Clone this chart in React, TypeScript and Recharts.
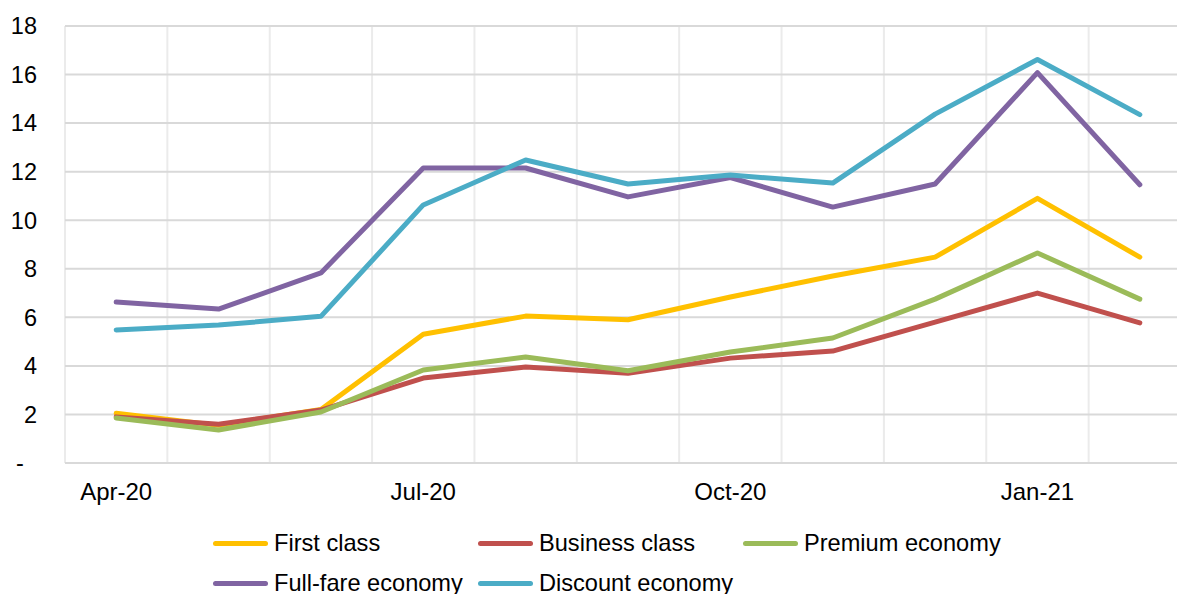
import { LineChart, Line, XAxis, YAxis, CartesianGrid, Legend } from "recharts"

const months = ["Apr-20", "May-20", "Jun-20", "Jul-20", "Aug-20", "Sep-20", "Oct-20", "Nov-20", "Dec-20", "Jan-21", "Feb-21"]
const firstClass = [2.05, 1.55, 2.2, 5.3, 6.05, 5.9, 6.84, 7.7, 8.48, 10.9, 8.48]
const businessClass = [1.9, 1.6, 2.18, 3.5, 3.95, 3.7, 4.32, 4.61, 5.8, 7.0, 5.77]
const premiumEconomy = [1.85, 1.36, 2.1, 3.83, 4.37, 3.8, 4.57, 5.15, 6.75, 8.65, 6.75]
const fullFareEconomy = [6.63, 6.34, 7.83, 12.15, 12.15, 10.96, 11.76, 10.54, 11.49, 16.08, 11.46]
const discountEconomy = [5.48, 5.68, 6.04, 10.63, 12.48, 11.49, 11.86, 11.53, 14.37, 16.62, 14.35]

const yTicks = [0, 2, 4, 6, 8, 10, 12, 14, 16, 18]
const labelTicks = [0, 3, 6, 9]
const quarterTicks = [-0.5, 2.5, 5.5, 8.5]
const gridTicks = [-0.5, 0.5, 1.5, 2.5, 3.5, 4.5, 5.5, 6.5, 7.5, 8.5, 9.5, 10.5]

const series = [
  { key: "first", name: "First class", color: "#FFC000" },
  { key: "business", name: "Business class", color: "#C0504D" },
  { key: "premium", name: "Premium economy", color: "#9BBB59" },
  { key: "fullFare", name: "Full-fare economy", color: "#8064A2" },
  { key: "discount", name: "Discount economy", color: "#4BACC6" }
]

const data = months.map((month, i) => ({
  x: i,
  month,
  first: firstClass[i],
  business: businessClass[i],
  premium: premiumEconomy[i],
  fullFare: fullFareEconomy[i],
  discount: discountEconomy[i]
}))

const font = "'Liberation Sans', Arial, sans-serif"
const domain: [number, number] = [-0.5, 10.5]

function LegendBox() {
  return (
    <div
      style={{
        display: "flex",
        flexWrap: "wrap",
        width: 795,
        marginLeft: 213,
        fontFamily: font,
        fontSize: 23.6,
        color: "#000"
      }}
    >
      {series.map((s) => (
        <div
          key={s.key}
          style={{
            width: 265,
            height: 40,
            display: "flex",
            alignItems: "center"
          }}
        >
          <span
            style={{
              display: "inline-block",
              width: 55,
              height: 5,
              borderRadius: 3,
              background: s.color,
              marginRight: 6
            }}
          />
          <span style={{ whiteSpace: "nowrap" }}>{s.name}</span>
        </div>
      ))}
    </div>
  )
}

export default function App() {
  return (
    <div
      style={{
        position: "absolute",
        left: 0,
        top: 0,
        width: 1177,
        height: 594,
        overflow: "hidden",
        background: "#fff"
      }}
    >
      <LineChart
        width={1200}
        height={603}
        data={data}
        margin={{ top: 26, right: 9, bottom: 0, left: 0 }}
      >
        <CartesianGrid
          xAxisId="grid"
          horizontal={false}
          stroke="#EBEBEB"
          strokeWidth={2}
        />
        <CartesianGrid
          xAxisId="grid"
          vertical={false}
          stroke="#D9D9D9"
          strokeWidth={2}
        />
        <XAxis
          xAxisId="grid"
          type="number"
          dataKey="x"
          domain={domain}
          ticks={gridTicks}
          hide
        />
        <XAxis
          xAxisId="quarters"
          type="number"
          dataKey="x"
          domain={domain}
          ticks={quarterTicks}
          height={0}
          tick={false}
          tickSize={7}
          tickLine={{ stroke: "#D9D9D9", strokeWidth: 2 }}
          axisLine={{ stroke: "#D9D9D9", strokeWidth: 2 }}
        />
        <XAxis
          type="number"
          dataKey="x"
          domain={domain}
          ticks={labelTicks}
          height={60}
          tickFormatter={(v: number) => months[v]}
          axisLine={false}
          tickLine={false}
          tickSize={0}
          tickMargin={20}
          tick={{ fill: "#000", fontSize: 24, fontFamily: font }}
        />
        <YAxis
          type="number"
          domain={[0, 18]}
          ticks={yTicks}
          width={65}
          axisLine={false}
          tickLine={false}
          tickMargin={22}
          tickFormatter={(v: number) => (v === 0 ? "-\u00A0\u00A0" : String(v))}
          tick={{ fill: "#000", fontSize: 23.5, fontFamily: font }}
        />
        <Legend verticalAlign="bottom" height={80} content={() => <LegendBox />} wrapperStyle={{ left: 0, width: 1200 }} />
        {series.map((s) => (
          <Line
            key={s.key}
            type="linear"
            dataKey={s.key}
            name={s.name}
            stroke={s.color}
            strokeWidth={5}
            strokeLinecap="round"
            strokeLinejoin="round"
            dot={false}
            activeDot={false}
            isAnimationActive={false}
          />
        ))}
      </LineChart>
    </div>
  )
}
